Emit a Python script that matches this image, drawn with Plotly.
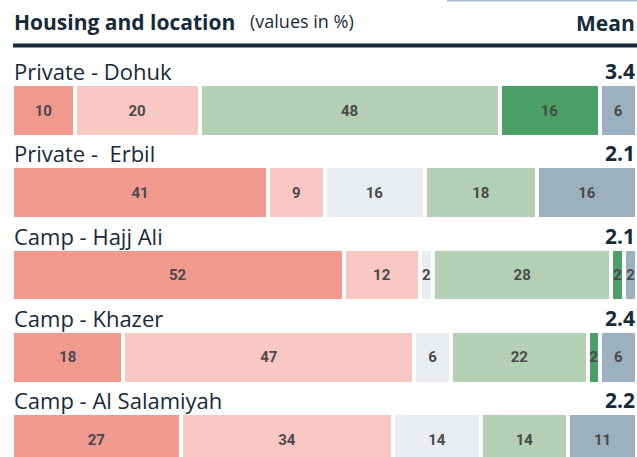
import plotly.graph_objects as go

# rows (top to bottom)
locations = ['Private - Dohuk', 'Private -  Erbil', 'Camp - Hajj Ali', 'Camp - Khazer', 'Camp - Al Salamiyah']
means = ['3.4', '2.1', '2.1', '2.4', '2.2']

# answer categories, values in %
cat_names = ['1', '2', '3', '4', '5', 'n/a']
cat_colors = ['#f1998f', '#f9c8c2', '#e9edf2', '#b3cfb4', '#4aa066', '#9bb1bf']
vals_1 = [10, 41, 52, 18, 27]
vals_2 = [20, 9, 12, 47, 34]
vals_3 = [0, 16, 2, 6, 14]
vals_4 = [48, 18, 28, 22, 14]
vals_5 = [16, 0, 2, 2, 0]
vals_na = [6, 16, 2, 6, 11]
series = [vals_1, vals_2, vals_3, vals_4, vals_5, vals_na]

W, H = 637, 457
FONT = 'Open Sans'
DARK = '#172a3a'

# each row is drawn over the full width (rounded values don't always add to 100)
totals = [sum(s[i] for s in series) for i in range(len(locations))]

fig = go.Figure()
for name, col, vals in zip(cat_names, cat_colors, series):
    fig.add_trace(go.Bar(
        y=locations,
        x=[v * 100 / t for v, t in zip(vals, totals)],
        orientation='h',
        name=name,
        marker=dict(color=col, line=dict(color='white', width=4)),
        width=0.64,
        text=[str(v) if v else '' for v in vals],
        textposition='inside',
        insidetextanchor='middle',
        constraintext='none',
        textfont=dict(family='Roboto', size=15, color='#4a4a4a', weight='bold'),
        hovertemplate='%{y}: %{text}%<extra></extra>',
    ))

# y positions: first bar centre at 110.5 px, row pitch 82.25 px
pitch = 82.25
top = -110.5 / pitch
fig.update_yaxes(type='category', categoryarray=locations,
                 range=[top + H / pitch, top], visible=False)
fig.update_xaxes(range=[0, 100], domain=[12 / W, 1], visible=False)

def py(pix):
    return 1 - pix / H

ann = [
    dict(x=12 / W, y=py(22), xanchor='left', yanchor='middle',
         text='<b>Housing and location</b>', font=dict(size=21, color=DARK)),
    dict(x=248 / W, y=py(21), xanchor='left', yanchor='middle',
         text='(values in %)', font=dict(size=18, color=DARK)),
    dict(x=1, y=py(23), xanchor='right', yanchor='middle',
         text='<b>Mean</b>', font=dict(size=21, color=DARK)),
]
for i, (loc, m) in enumerate(zip(locations, means)):
    yc = 71 + i * pitch
    ann.append(dict(x=12 / W, y=py(yc), xanchor='left', yanchor='middle',
                    text=loc.replace('  ', '&nbsp; '), font=dict(size=22, color=DARK)))
    ann.append(dict(x=1, y=py(yc), xanchor='right', yanchor='middle',
                    text='<b>' + m + '</b>', font=dict(size=21, color=DARK)))
for a in ann:
    a.update(xref='paper', yref='paper', showarrow=False)

fig.update_layout(
    width=W, height=H,
    margin=dict(l=0, r=0, t=0, b=0),
    barmode='stack',
    showlegend=False,
    plot_bgcolor='white', paper_bgcolor='white',
    font=dict(family=FONT),
    annotations=ann,
    shapes=[
        dict(type='line', xref='paper', yref='paper', x0=13 / W, x1=1,
             y0=py(45.5), y1=py(45.5), line=dict(color=DARK, width=4)),
        dict(type='line', xref='paper', yref='paper', x0=447 / W, x1=1,
             y0=py(0.5), y1=py(0.5), line=dict(color='#a9bccb', width=2)),
    ],
)

# drop the default page margin so the 637x457 figure fills the window
fig.write_html('out.html', config={'displayModeBar': False},
               post_script="document.body.style.margin='0';document.body.style.overflow='hidden';")
